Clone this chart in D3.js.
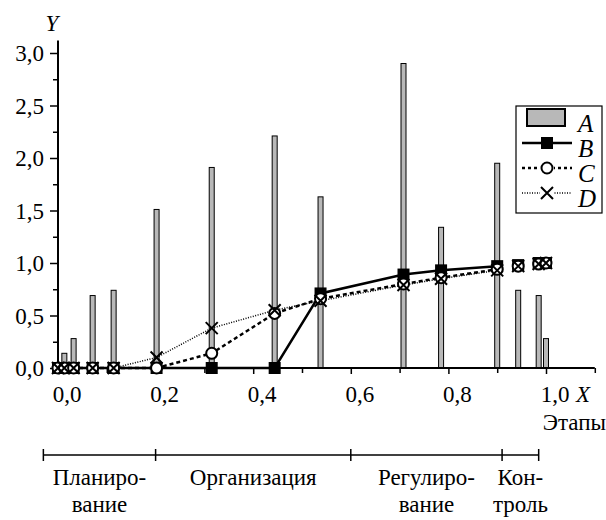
<!DOCTYPE html>
<html>
<head>
<meta charset="utf-8">
<script src="https://cdn.jsdelivr.net/npm/d3@7"></script>
</head>
<body style="margin:0">
<script>
// bar series A: x positions and heights
var barX = [0.013, 0.032, 0.071, 0.114, 0.202, 0.315, 0.444, 0.538, 0.708, 0.785, 0.900, 0.943, 0.985, 1.000];
var barA = [0.14, 0.28, 0.69, 0.74, 1.51, 1.91, 2.21, 1.63, 2.90, 1.34, 1.95, 0.74, 0.69, 0.28];

// line series B, C, D
var lineX = [0, 0.013, 0.032, 0.071, 0.114, 0.202, 0.315, 0.444, 0.538, 0.708, 0.785, 0.900, 0.943, 0.985, 1.000];
var seriesB = [0, 0, 0, 0, 0, 0, 0, 0, 0.71, 0.89, 0.93, 0.97, 0.98, 1.00, 1.00];
var seriesC = [0, 0, 0, 0, 0, 0, 0.14, 0.52, 0.66, 0.80, 0.86, 0.94, 0.97, 0.99, 1.00];
var seriesD = [0, 0, 0, 0, 0, 0.10, 0.38, 0.55, 0.64, 0.79, 0.85, 0.93, 0.97, 0.99, 1.00];
var lineEnd = 0.900; // connecting lines stop here, later points are markers only

var xMajor = [0, 0.2, 0.4, 0.6, 0.8, 1.0];
var xMinor = [0.1, 0.3, 0.5, 0.7, 0.9, 1.1];
var yMajor = [0, 0.5, 1.0, 1.5, 2.0, 2.5, 3.0];
var yMinor = [0.25, 0.75, 1.25, 1.75, 2.25, 2.75];

// stages along the bottom
var stageBreaks = [-0.03, 0.2, 0.6, 0.91, 0.985];
var stageNames = [["Планиро-", "вание"], ["Организация"], ["Регулиро-", "вание"], ["Кон-", "троль"]];

var w = 606, h = 520;
var x0 = 58, y0 = 368;
var serif = "'Liberation Serif'";

var svg = d3.select("body").append("svg")
    .attr("width", w)
    .attr("height", h);

var xScale = d3.scaleLinear().domain([0, 1.1]).range([x0, x0 + 488 * 1.1]);
var yScale = d3.scaleLinear().domain([0, 3.12]).range([y0, y0 - 105 * 3.12]);

var comma = function(d) { return d3.format(".1f")(d).replace(".", ","); };

// plain text helper
function label(g, x, y, t, size, italic, anchor) {
    return g.append("text").attr("x", x).attr("y", y)
        .attr("font-size", size)
        .attr("text-anchor", anchor || "start")
        .attr("font-style", italic ? "italic" : null)
        .style("font-family", serif)
        .text(t);
}

// x axis ticks through d3 axis, labels drawn by hand at the tick positions
var xAxis = svg.append("g").attr("transform", "translate(0," + y0 + ")");
xAxis.call(d3.axisBottom(xScale).tickValues(xMajor).tickSize(6).tickFormat(""));
xAxis.select(".domain").remove();
xAxis.selectAll("line").attr("stroke-width", 1.5);
svg.append("g").attr("transform", "translate(0," + y0 + ")")
    .call(d3.axisBottom(xScale).tickValues(xMinor).tickSize(5).tickFormat(""))
    .call(function(g) { g.select(".domain").remove(); g.selectAll("line").attr("stroke-width", 1.5); });
xMajor.forEach(function(v) {
    label(svg, xScale(v) + 9, 402, comma(v), 23, false, "middle");
});

// y axis
var yAxis = svg.append("g").attr("transform", "translate(" + x0 + ",0)");
yAxis.call(d3.axisLeft(yScale).tickValues(yMajor).tickSize(8).tickFormat(""));
yAxis.select(".domain").remove();
yAxis.selectAll("line").attr("stroke-width", 1.5);
svg.append("g").attr("transform", "translate(" + x0 + ",0)")
    .call(d3.axisLeft(yScale).tickValues(yMinor).tickSize(5).tickFormat(""))
    .call(function(g) { g.select(".domain").remove(); g.selectAll("line").attr("stroke-width", 1.5); });
yMajor.forEach(function(v) {
    label(svg, x0 - 14, yScale(v) + 8, comma(v), 23, false, "end");
});

// bars A
svg.append("g").selectAll("rect")
    .data(barX)
    .enter().append("rect")
    .attr("x", function(d) { return xScale(d) - 2.5; })
    .attr("y", function(d, i) { return yScale(barA[i]); })
    .attr("width", 5)
    .attr("height", function(d, i) { return y0 - yScale(barA[i]); })
    .attr("fill", "#b8b8b8")
    .attr("stroke", "#000")
    .attr("stroke-width", 1);

// axis lines on top of bars
svg.append("line").attr("x1", x0).attr("x2", xScale(1.1)).attr("y1", y0).attr("y2", y0)
    .attr("stroke", "#000").attr("stroke-width", 2);
svg.append("line").attr("x1", x0).attr("x2", x0).attr("y1", y0).attr("y2", yScale(3.12))
    .attr("stroke", "#000").attr("stroke-width", 2);

function pts(vals) {
    return lineX.map(function(d, i) { return [d, vals[i]]; });
}

var line = d3.line()
    .x(function(d) { return xScale(d[0]); })
    .y(function(d) { return yScale(d[1]); });

var styles = [
    { vals: seriesB, dash: null, width: 2.5 },
    { vals: seriesC, dash: "4,3", width: 2.5 },
    { vals: seriesD, dash: "1,1.5", width: 1.5 }
];

styles.forEach(function(s) {
    svg.append("path")
        .datum(pts(s.vals).filter(function(d) { return d[0] <= lineEnd; }))
        .attr("d", line)
        .attr("fill", "none")
        .attr("stroke", "#000")
        .attr("stroke-width", s.width)
        .attr("stroke-dasharray", s.dash);
});

// markers
function square(g, cx, cy) {
    g.append("rect").attr("x", cx - 6).attr("y", cy - 6).attr("width", 12).attr("height", 12).attr("fill", "#000");
}
function circle(g, cx, cy) {
    g.append("circle").attr("cx", cx).attr("cy", cy).attr("r", 5.5)
        .attr("fill", "#fff").attr("stroke", "#000").attr("stroke-width", 2);
}
function cross(g, cx, cy) {
    g.append("path").attr("d", "M" + (cx - 6) + "," + (cy - 6) + "L" + (cx + 6) + "," + (cy + 6) +
        "M" + (cx + 6) + "," + (cy - 6) + "L" + (cx - 6) + "," + (cy + 6))
        .attr("stroke", "#000").attr("stroke-width", 2).attr("fill", "none");
}

var mk = svg.append("g");
pts(seriesB).forEach(function(d) { square(mk, xScale(d[0]), yScale(d[1])); });
pts(seriesC).forEach(function(d) { circle(mk, xScale(d[0]), yScale(d[1])); });
pts(seriesD).forEach(function(d) { cross(mk, xScale(d[0]), yScale(d[1])); });

// axis titles
label(svg, 52, 31, "Y", 23, true, "middle");
label(svg, 576, 402, "X", 23, true);

// legend
var lg = svg.append("g");
lg.append("rect").attr("x", 516).attr("y", 106).attr("width", 86).attr("height", 107)
    .attr("fill", "#fff").attr("stroke", "#000").attr("stroke-width", 1.2);
lg.append("rect").attr("x", 527).attr("y", 109).attr("width", 38).attr("height", 17)
    .attr("fill", "#b8b8b8").attr("stroke", "#000").attr("stroke-width", 2);
var legY = [143, 168, 193];
styles.forEach(function(s, i) {
    lg.append("line").attr("x1", 522).attr("x2", 572).attr("y1", legY[i]).attr("y2", legY[i])
        .attr("stroke", "#000").attr("stroke-width", s.width)
        .attr("stroke-dasharray", i == 1 ? "3,3" : s.dash);
});
square(lg, 547, 143);
lg.append("rect").attr("x", 540).attr("y", 161).attr("width", 14).attr("height", 14).attr("fill", "#fff");
circle(lg, 547, 168);
lg.append("rect").attr("x", 540).attr("y", 186).attr("width", 14).attr("height", 14).attr("fill", "#fff");
cross(lg, 547, 193);
["A", "B", "C", "D"].forEach(function(t, i) {
    label(lg, 578, 132 + i * 25, t, 25, true);
});

// stage scale
var sy = 455;
var sg = svg.append("g");
sg.append("line").attr("x1", xScale(stageBreaks[0])).attr("x2", xScale(stageBreaks[stageBreaks.length - 1]))
    .attr("y1", sy).attr("y2", sy).attr("stroke", "#000").attr("stroke-width", 1.5);
stageBreaks.forEach(function(b) {
    sg.append("line").attr("x1", xScale(b)).attr("x2", xScale(b)).attr("y1", sy - 6).attr("y2", sy + 6)
        .attr("stroke", "#000").attr("stroke-width", 1.5);
});
stageNames.forEach(function(lines, i) {
    var cx = (xScale(stageBreaks[i]) + xScale(stageBreaks[i + 1])) / 2;
    lines.forEach(function(t, j) {
        label(sg, cx, 485 + j * 27, t, 23, false, "middle");
    });
});
label(sg, 606, 430, "Этапы", 23, false, "end");
</script>
</body>
</html>
